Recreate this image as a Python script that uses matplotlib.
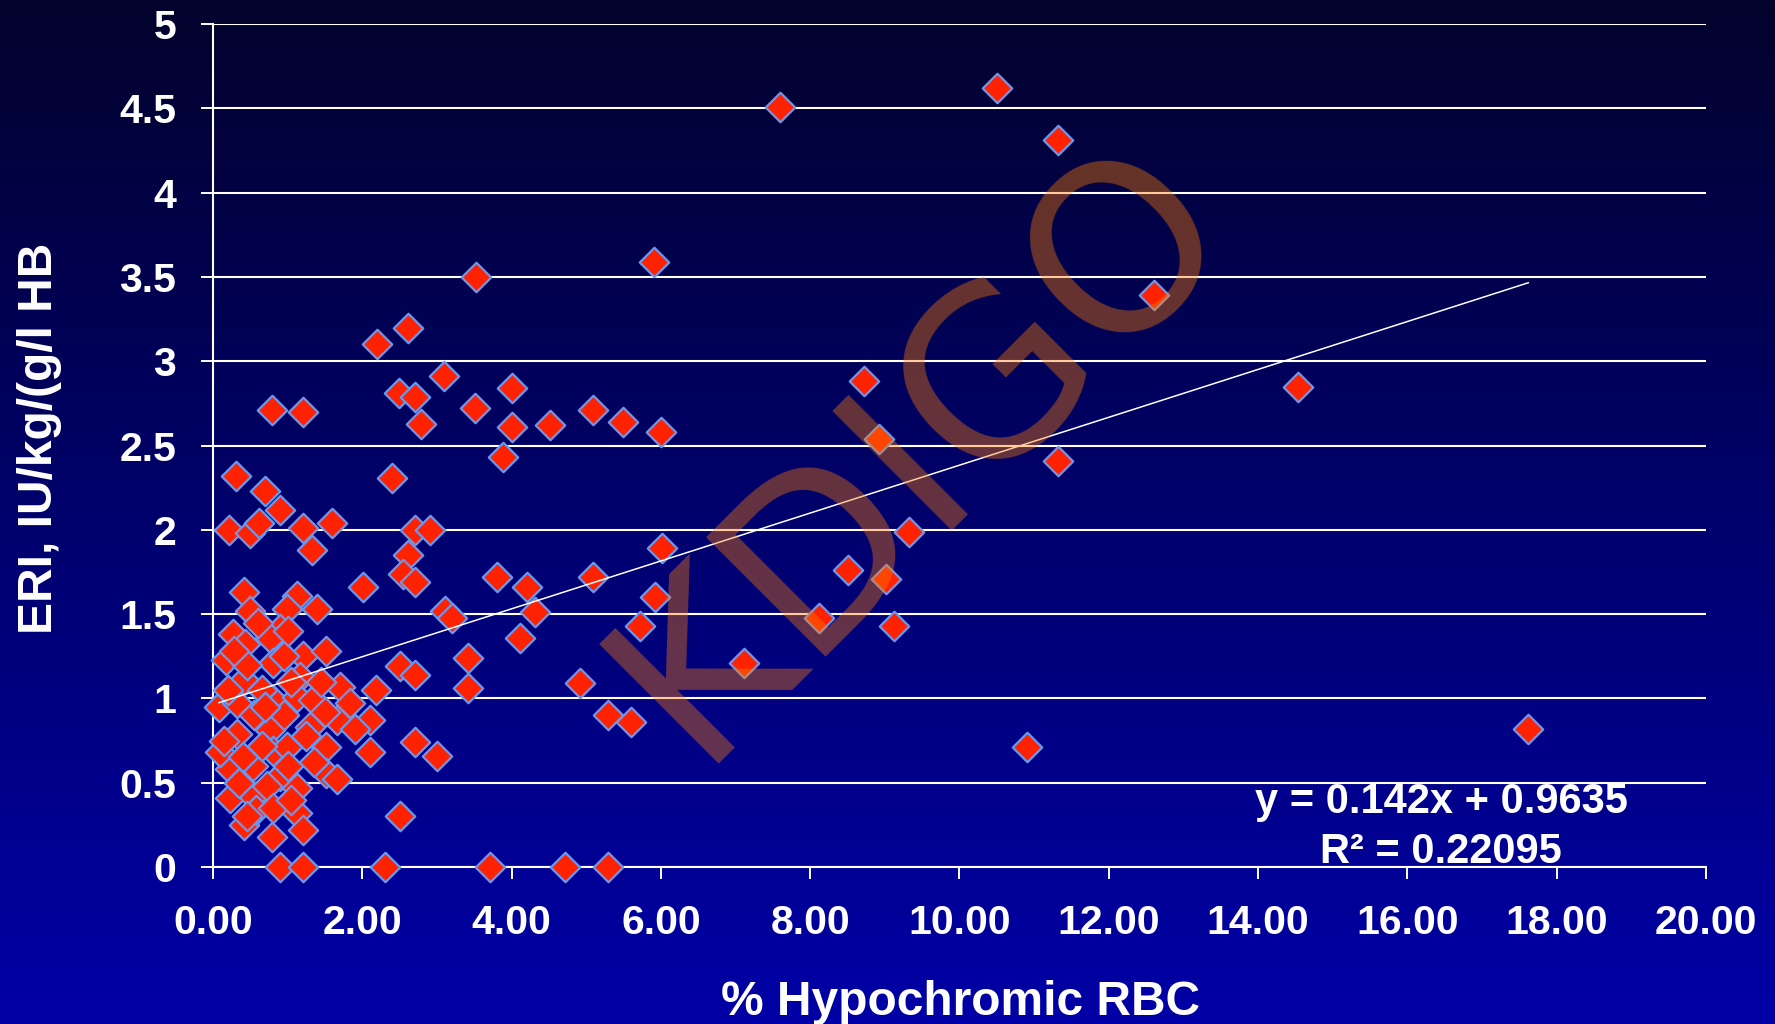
import matplotlib

matplotlib.use("Agg")
import matplotlib.pyplot as plt
import numpy as np
from matplotlib.colors import LinearSegmentedColormap

# ERI vs % hypochromic RBC
# dense group near the origin
low_x = [0.31, 0.70, 0.90, 0.22, 0.50, 0.61, 1.21, 1.32, 1.60, 2.40, 0.79, 1.20,
         0.41, 1.12, 1.39, 0.50, 0.99, 2.01, 0.90, 0.27, 0.43, 0.76, 0.18, 0.81,
         1.21, 1.52, 2.50, 0.41, 1.17, 1.70, 2.19, 0.08, 0.32, 0.81, 1.12, 1.34,
         1.84, 2.10, 1.30, 1.66, 0.32, 0.76, 0.81, 0.99, 1.52, 2.10, 0.23, 0.54,
         0.90, 1.12, 1.52, 1.66, 0.23, 0.54, 0.72, 0.41, 0.79, 1.12, 1.21, 0.90,
         1.21, 2.30, 2.50, 0.58, 0.09, 0.60, 0.95, 0.45, 1.05, 0.65, 1.45, 0.55,
         0.95, 1.50, 0.20, 0.40, 0.65, 1.00, 1.35, 0.35, 0.80, 0.15, 0.45, 1.05,
         1.25, 0.70, 1.90, 0.28, 1.00]
low_y = [2.32, 2.23, 2.12, 2.00, 1.98, 2.04, 2.01, 1.88, 2.04, 2.31, 2.71, 2.70,
         1.63, 1.61, 1.53, 1.52, 1.53, 1.66, 1.41, 1.38, 1.32, 1.36, 1.23, 1.21,
         1.25, 1.28, 1.19, 1.11, 1.13, 1.07, 1.05, 0.95, 0.97, 0.99, 1.01, 0.99,
         0.97, 0.87, 0.83, 0.87, 0.79, 0.81, 0.69, 0.71, 0.71, 0.68, 0.58, 0.60,
         0.54, 0.47, 0.56, 0.52, 0.41, 0.42, 0.48, 0.25, 0.18, 0.32, 0.22, 0.00,
         0.00, 0.00, 0.30, 0.34, 0.68, 1.45, 1.25, 1.20, 1.10, 1.05, 1.10, 0.90,
         0.90, 0.92, 1.05, 0.65, 0.72, 0.60, 0.62, 0.50, 0.35, 0.75, 0.30, 0.40,
         0.78, 0.95, 0.82, 1.28, 1.40]

# middle band, 2 to 7 %
mid_x = [2.20, 2.61, 3.09, 2.49, 2.70, 2.79, 3.51, 4.00, 4.00, 3.88, 4.51, 5.09,
         5.49, 6.00, 3.52, 5.91, 2.71, 2.91, 2.61, 2.55, 2.71, 3.80, 4.20, 4.31,
         4.11, 3.11, 3.20, 5.09, 6.01, 5.92, 5.72, 3.42, 3.42, 4.91, 5.29, 5.60,
         2.71, 2.71, 3.00, 3.71, 4.72, 5.29, 7.11]
mid_y = [3.10, 3.20, 2.91, 2.81, 2.79, 2.63, 2.72, 2.84, 2.61, 2.43, 2.62, 2.71,
         2.64, 2.58, 3.50, 3.59, 2.00, 2.00, 1.85, 1.74, 1.69, 1.72, 1.66, 1.51,
         1.36, 1.52, 1.48, 1.72, 1.89, 1.60, 1.43, 1.24, 1.06, 1.09, 0.90, 0.86,
         1.14, 0.74, 0.66, 0.00, 0.00, 0.00, 1.21]

# high hypochromic values
high_x = [7.60, 10.50, 11.32, 12.61, 8.72, 8.92, 11.32, 14.53, 9.32, 8.51, 9.01,
          8.12, 9.12, 10.90, 17.62]
high_y = [4.51, 4.62, 4.31, 3.39, 2.88, 2.54, 2.41, 2.85, 1.99, 1.76, 1.71,
          1.48, 1.43, 0.71, 0.82]

trend_slope = 0.142
trend_intercept = 0.9635
r_squared = "0.22095"

x_ticks = [0, 2, 4, 6, 8, 10, 12, 14, 16, 18, 20]
x_tick_labels = ["0.00", "2.00", "4.00", "6.00", "8.00", "10.00", "12.00",
                 "14.00", "16.00", "18.00", "20.00"]
y_ticks = [0, 0.5, 1, 1.5, 2, 2.5, 3, 3.5, 4, 4.5, 5]
y_tick_labels = ["0", "0.5", "1", "1.5", "2", "2.5", "3", "3.5", "4", "4.5", "5"]

plt.rcParams["font.family"] = ["Liberation Sans", "DejaVu Sans"]

hypo = np.array(low_x + mid_x + high_x)
eri = np.array(low_y + mid_y + high_y)

fig = plt.figure(figsize=(17.75, 10.24), dpi=100)

# slide background gradient
bg = fig.add_axes([0, 0, 1, 1], zorder=-10)
grad = np.linspace(0, 1, 256).reshape(-1, 1)
cmap = LinearSegmentedColormap.from_list("slide", ["#03032c", "#00006c", "#0000a6"])
bg.imshow(grad, aspect="auto", cmap=cmap, extent=[0, 1, 0, 1], origin="upper")
bg.set_axis_off()

ax = fig.add_axes([0.12, 0.1533, 0.8411, 0.8232])
ax.set_facecolor("none")
ax.set_xlim(0, 20)
ax.set_ylim(0, 5)

ax.scatter(hypo, eri, marker="D", s=15 ** 2, c="#ff2200", edgecolors="#6b97ee",
           linewidths=1.6, zorder=3, clip_on=False)

tx = np.array([hypo.min(), hypo.max()])
ax.plot(tx, trend_slope * tx + trend_intercept, color="white", lw=1.1, zorder=4)

ax.set_xticks(x_ticks)
ax.set_xticklabels(x_tick_labels)
ax.set_yticks(y_ticks)
ax.set_yticklabels(y_tick_labels)
ax.grid(axis="y", color="white", lw=1.5)
ax.set_axisbelow(True)
ax.tick_params(axis="both", colors="white", direction="out", length=8.6, width=1.4,
               labelsize=29.5, pad=18)
for lab in ax.get_xticklabels() + ax.get_yticklabels():
    lab.set_fontweight("bold")
for side in ("top", "right"):
    ax.spines[side].set_visible(False)
for side in ("left", "bottom"):
    ax.spines[side].set_color("white")
    ax.spines[side].set_linewidth(1.5)

ax.set_xlabel("% Hypochromic RBC", fontsize=34.5, fontweight="bold", color="white",
              va="baseline")
ax.xaxis.set_label_coords(0.501, -0.1756)
ax.set_ylabel("ERI, IU/kg/(g/l HB", fontsize=34.5, fontweight="bold", color="white",
              va="baseline")
ax.yaxis.set_label_coords(-0.108, 0.508)

eq = f"y = {trend_slope}x + {trend_intercept}"
ax.text(0.8225, 0.064, eq, transform=ax.transAxes, ha="center", va="baseline",
        fontsize=30, fontweight="bold", color="white", zorder=6)
ax.text(0.8225, 0.005, f"R\u00b2 = {r_squared}", transform=ax.transAxes, ha="center",
        va="baseline", fontsize=30, fontweight="bold", color="white", zorder=6)

# watermark over the plot
fig.text(0.544, 0.517, "KDIGO", rotation=45, rotation_mode="anchor", ha="center",
         va="baseline", fontsize=167, family="DejaVu Sans", color="#ff7f00",
         alpha=0.4, zorder=10)

fig.savefig("out.png", dpi=100)
plt.close(fig)
